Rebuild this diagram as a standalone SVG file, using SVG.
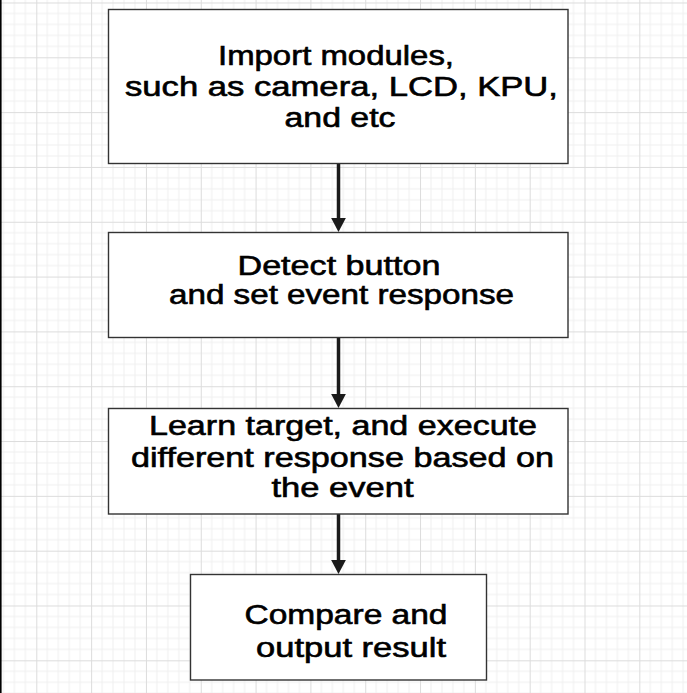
<svg xmlns="http://www.w3.org/2000/svg" width="687" height="693" viewBox="0 0 687 693">
<defs>
<pattern id="grid" patternUnits="userSpaceOnUse" x="36.3" y="57.3" width="54.82" height="54.82">
<path d="M10.96,0V54.82M21.93,0V54.82M32.89,0V54.82M43.86,0V54.82M0,10.96H54.82M0,21.93H54.82M0,32.89H54.82M0,43.86H54.82" stroke="#efefef" stroke-width="1" fill="none"/>
<path d="M0.5,0V54.82M0,0.5H54.82" stroke="#dcdcdc" stroke-width="1" fill="none"/>
</pattern>
<marker id="ah" viewBox="0 0 14 14.7" refX="4" refY="7.35" markerWidth="14" markerHeight="14.7" markerUnits="userSpaceOnUse" orient="auto">
<path d="M0,0L14,7.35L0,14.7Z" fill="#1a1a1a"/>
</marker>
</defs>
<style>
.box{fill:#fff;stroke:#333;stroke-width:1.4}
.t{font-family:"Liberation Sans",Arial,sans-serif;font-size:27px;fill:#000;stroke:#000;stroke-width:0.6}
.c{stroke:#1a1a1a;stroke-width:3.5;fill:none;marker-end:url(#ah)}
</style>
<rect width="687" height="693" fill="#fff"/>
<rect width="687" height="693" fill="url(#grid)"/>
<line x1="0.8" y1="0" x2="0.8" y2="693" stroke="#000" stroke-width="1.6"/>
<g id="connectors">
<line class="c" x1="338.5" y1="163" x2="338.5" y2="222"/>
<line class="c" x1="338.5" y1="338" x2="338.5" y2="398"/>
<line class="c" x1="338.5" y1="514" x2="338.5" y2="564"/>
</g>
<g id="n1">
<rect class="box" x="108.5" y="9.5" width="459.5" height="154"/>
<text class="t" x="218" y="64.5" textLength="236" lengthAdjust="spacingAndGlyphs">Import modules,</text>
<text class="t" x="125" y="95.5" textLength="433" lengthAdjust="spacingAndGlyphs">such as camera, LCD, KPU,</text>
<text class="t" x="284.5" y="126.5" textLength="111" lengthAdjust="spacingAndGlyphs">and etc</text>
</g>
<g id="n2">
<rect class="box" x="108.5" y="232.5" width="459.5" height="105"/>
<text class="t" x="237.5" y="274.5" textLength="203" lengthAdjust="spacingAndGlyphs">Detect button</text>
<text class="t" x="169" y="303.5" textLength="345" lengthAdjust="spacingAndGlyphs">and set event response</text>
</g>
<g id="n3">
<rect class="box" x="108.5" y="408.5" width="459.5" height="105.5"/>
<text class="t" x="149" y="435" textLength="388" lengthAdjust="spacingAndGlyphs">Learn target, and execute</text>
<text class="t" x="131" y="466.5" textLength="423" lengthAdjust="spacingAndGlyphs">different response based on</text>
<text class="t" x="271.5" y="497" textLength="142" lengthAdjust="spacingAndGlyphs">the event</text>
</g>
<g id="n4">
<rect class="box" x="190.5" y="574.5" width="296" height="105.5"/>
<text class="t" x="244.5" y="623.5" textLength="203" lengthAdjust="spacingAndGlyphs">Compare and</text>
<text class="t" x="256" y="656.5" textLength="190" lengthAdjust="spacingAndGlyphs">output result</text>
</g>
</svg>
